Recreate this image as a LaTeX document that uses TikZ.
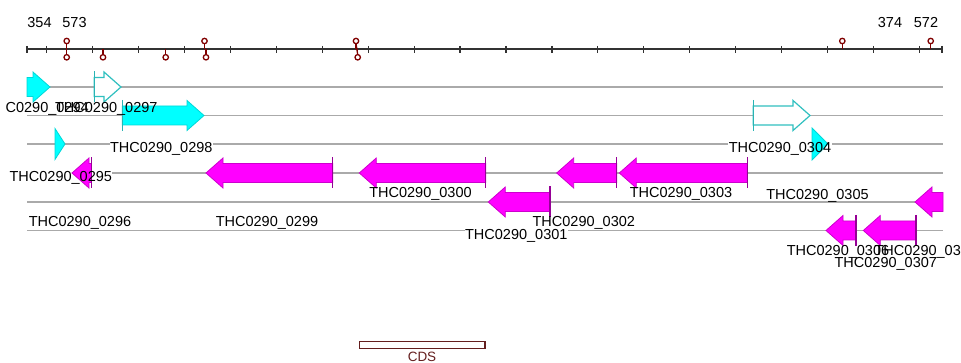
\documentclass[tikz,border=0pt]{standalone}
\usepackage{fontspec}
\setmainfont{Liberation Sans}
\definecolor{trackgray}{RGB}{170,170,170}
\definecolor{axisgray}{RGB}{50,50,50}
\definecolor{markred}{RGB}{128,0,0}
\definecolor{cyanfill}{RGB}{0,255,255}
\definecolor{cyanedge}{RGB}{0,215,215}
\definecolor{cyanbarc}{RGB}{40,180,180}
\definecolor{cyanhol}{RGB}{48,192,192}
\definecolor{magfill}{RGB}{255,0,255}
\definecolor{magedge}{RGB}{205,0,205}
\definecolor{magbarc}{RGB}{150,0,150}
\definecolor{cdscol}{RGB}{100,30,30}
\pgfdeclarelayer{bglayer}
\pgfdeclarelayer{labelbg}
\pgfdeclarelayer{fglayer}
\pgfsetlayers{bglayer,labelbg,main,fglayer}
% style, x1 (start), x2 (tip), y
\newcommand\genefwd[4]{\draw[#1] (#2,#4-9.5) -- (#3-17,#4-9.5) -- (#3-17,#4-15) -- (#3,#4) -- (#3-17,#4+15) -- (#3-17,#4+9.5) -- (#2,#4+9.5) -- cycle;}
% style, tip, end, y
\newcommand\generev[4]{\draw[#1] (#3,#4-9.5) -- (#2+17,#4-9.5) -- (#2+17,#4-15) -- (#2,#4) -- (#2+17,#4+15) -- (#2+17,#4+9.5) -- (#3,#4+9.5) -- cycle;}
% style, x, y
\newcommand\genebar[3]{\draw[#1] (#2,#3-15.5) -- (#2,#3+15.5);}
\begin{document}
\begin{tikzpicture}[x=1pt,y=-1pt,
  track/.style={draw=trackgray,line width=1.1pt},
  axisline/.style={draw=axisgray,line width=1.4pt},
  tickline/.style={draw=axisgray,line width=1.2pt},
  stemline/.style={draw=markred,line width=1.3pt},
  markcirc/.style={draw=markred,fill=white,line width=1.3pt},
  cyanarrow/.style={fill=cyanfill,draw=cyanedge,line width=0.8pt},
  cyanhollow/.style={fill=white,draw=cyanhol,line width=1.2pt},
  cyanbar/.style={draw=cyanbarc,line width=1pt},
  magarrow/.style={fill=magfill,draw=magedge,line width=0.8pt},
  magbar/.style={draw=magbarc,line width=1.1pt},
  glabel/.style={font=\fontsize{14.5}{16}\selectfont,inner sep=0.3pt,anchor=base,text height=10.5pt,text depth=0.5pt},
  numlabel/.style={font=\fontsize{14.5}{16}\selectfont,inner sep=0pt,anchor=base},
  cdslabel/.style={font=\fontsize{13.5}{15}\selectfont,text=cdscol,inner sep=0pt,anchor=base}]
\useasboundingbox (0,0) rectangle (961,363);

% ---------- track lines ----------
\begin{pgfonlayer}{bglayer}
\foreach \yy in {87,115.5,144,173,202,230.5}
  \draw[track] (27,\yy) -- (943,\yy);
\end{pgfonlayer}

% ---------- ruler ----------
\draw[axisline] (27,49) -- (942,49);
\foreach \i in {0,...,19}
  \draw[tickline] ({46.7+45.93*\i},46) -- ++(0,7);
\draw[tickline] (27,46) -- ++(0,7);
\draw[tickline] (942,46) -- ++(0,7);

\foreach \xx in {66.7,204.5,356,842.3,930.7}{
  \draw[stemline] (\xx,49) -- (\xx,43.5);
  \draw[markcirc] (\xx,41) circle (2.7);}
\foreach \xx in {66.7,103,165.7,206,357.7}{
  \draw[stemline] (\xx,49) -- (\xx,54.7);
  \draw[markcirc] (\xx,57.3) circle (2.7);}
\draw[stemline] (356,43.5) -- (357.7,54.7);

\node[numlabel] (n354) at (39.5,27.7) {354};
\node[numlabel] (n573) at (74.5,27.7) {573};
\node[numlabel] (n374) at (890,27.5) {374};
\node[numlabel] (n572) at (926,27.5) {572};

% ---------- genes ----------
% row 1
\genefwd{cyanarrow}{27}{50}{87}
\genefwd{cyanhollow}{94.3}{121}{87}
\genebar{cyanbar}{94.3}{87}
% row 2
\genefwd{cyanarrow}{122.3}{204}{115.5}
\genebar{cyanbar}{122.3}{115.5}
\genefwd{cyanhollow}{753.3}{810}{115.5}
\genebar{cyanbar}{753.3}{115.5}
% row 3
\draw[cyanarrow] (55,128.5) -- (65,144) -- (55,159.5) -- cycle;
\draw[cyanarrow] (812,128) -- (828,144) -- (812,160) -- cycle;
% row 4
\generev{magarrow}{72}{91.5}{173}
\genebar{magbar}{91.5}{173}
\generev{magarrow}{206}{332.7}{173}
\genebar{magbar}{332.7}{173}
\generev{magarrow}{359.3}{485.7}{173}
\genebar{magbar}{485.7}{173}
\generev{magarrow}{556.7}{616.7}{173}
\genebar{magbar}{616.7}{173}
\generev{magarrow}{619.3}{747.3}{173}
\genebar{magbar}{747.3}{173}
% row 5
\generev{magarrow}{488.3}{550}{202}
\genebar{magbar}{550}{202}
\generev{magarrow}{915}{943}{202}
% row 6
\generev{magarrow}{826}{856}{230.5}
\genebar{magbar}{856}{230.5}
\generev{magarrow}{863.3}{916}{230.5}
\genebar{magbar}{916}{230.5}

% ---------- gene labels ----------
\begin{pgfonlayer}{fglayer}
\begin{scope}
\clip (6.5,0) rectangle (961,363);
\node[glabel] (l0294) at (37.5,113) {THC0290\_0294};
\end{scope}
\node[glabel] (l0297) at (106.3,113) {THC0290\_0297};
\node[glabel] (l0298) at (161.3,153) {THC0290\_0298};
\node[glabel] (l0304) at (780,152.5) {THC0290\_0304};
\node[glabel] (l0295) at (60.8,182) {THC0290\_0295};
\node[glabel] (l0305) at (817.5,199.5) {THC0290\_0305};
\node[glabel] (l0296) at (80,226.8) {THC0290\_0296};
\node[glabel] (l0299) at (267,226.8) {THC0290\_0299};
\node[glabel] (l0300) at (420.5,197.5) {THC0290\_0300};
\node[glabel] (l0302) at (583.8,226.5) {THC0290\_0302};
\node[glabel] (l0303) at (681,198) {THC0290\_0303};
\node[glabel] (l0301) at (516.3,239.5) {THC0290\_0301};
\node[glabel] (l0306) at (838,255.5) {THC0290\_0306};
\node[glabel] (l0307) at (885.8,268) {THC0290\_0307};
\node[glabel] (l0308) at (925.8,255.5) {THC0290\_0308};
\end{pgfonlayer}
\begin{pgfonlayer}{labelbg}
\foreach \n in {l0297,l0298,l0304,l0295,l0305,l0296,l0299,l0300,l0302,l0303,l0301,l0306,l0307,l0308}
  \fill[white] (\n.south west) rectangle (\n.north east);
\fill[white] (6.5,0 |- l0294.south west) rectangle (l0294.north east);
\end{pgfonlayer}

% ---------- legend ----------
\node[draw=cdscol,fill=white,line width=1.3pt,minimum width=125.5pt,minimum height=7.5pt,inner sep=0pt] (cdsbox) at (422.3,345) {};
\node[cdslabel] (cdstext) at (422,361.6) {CDS};
\end{tikzpicture}
\end{document}
